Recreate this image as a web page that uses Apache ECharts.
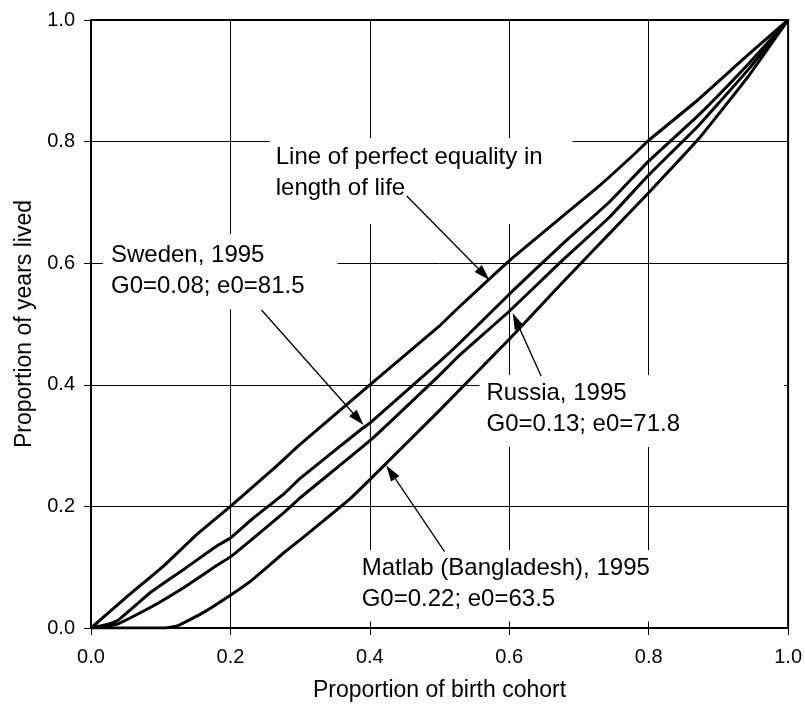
<!DOCTYPE html>
<html>
<head>
<meta charset="utf-8">
<script src="https://cdn.jsdelivr.net/npm/echarts@6/dist/echarts.min.js"></script>
<style>
  html, body { margin: 0; padding: 0; background: #fff; }
  #chart { width: 805px; height: 707px; }
</style>
</head>
<body>
<div id="chart"></div>
<script>
//*************************************************************************************************data
// [proportion of birth cohort, proportion of years lived]
var equality_line = [[0, 0], [0.05, 0.05], [0.106, 0.104], [0.15, 0.152], [0.2, 0.2], [0.26, 0.26],
    [0.3, 0.302], [0.4, 0.4], [0.5, 0.497], [0.53, 0.53], [0.6, 0.604], [0.67, 0.671], [0.73, 0.728],
    [0.78, 0.78], [0.8, 0.802], [0.87, 0.868], [0.94, 0.94], [1, 1]];
var sweden_1995 = [[0, 0], [0.02, 0.005], [0.039, 0.013], [0.087, 0.06], [0.135, 0.098], [0.182, 0.136],
    [0.2, 0.148], [0.23, 0.178], [0.278, 0.222], [0.3, 0.246], [0.39, 0.329], [0.4, 0.337], [0.5, 0.438],
    [0.53, 0.47], [0.6, 0.549], [0.672, 0.627], [0.744, 0.701], [0.8, 0.768], [0.872, 0.844],
    [0.944, 0.929], [1, 1]];
var russia_1995 = [[0, 0], [0.039, 0.007], [0.087, 0.035], [0.135, 0.068], [0.182, 0.104], [0.2, 0.117],
    [0.23, 0.145], [0.278, 0.191], [0.3, 0.214], [0.4, 0.308], [0.5, 0.416], [0.53, 0.45], [0.6, 0.521],
    [0.672, 0.6], [0.744, 0.676], [0.8, 0.745], [0.872, 0.827], [0.944, 0.92], [1, 1]];
var matlab_1995 = [[0, 0], [0.106, 0], [0.125, 0.004], [0.159, 0.024], [0.2, 0.054], [0.23, 0.078],
    [0.278, 0.125], [0.3, 0.145], [0.371, 0.212], [0.4, 0.244], [0.5, 0.358], [0.6, 0.475], [0.672, 0.563],
    [0.744, 0.649], [0.8, 0.716], [0.872, 0.805], [0.944, 0.909], [1, 1]];

var x_title = 'Proportion of birth cohort';
var y_title = 'Proportion of years lived';

// annotation texts
var note_texts = [
    'Line of perfect equality in\nlength of life',
    'Sweden, 1995\nG0=0.08; e0=81.5',
    'Russia, 1995\nG0=0.13; e0=71.8',
    'Matlab (Bangladesh), 1995\nG0=0.22; e0=63.5',
];

//*************************************************************************************************layout
var font = '"Liberation Sans", Arial, sans-serif';

// top-left of each white text box (data coords) and its padding
var note_boxes = [
    { at: [0.2564, 0.8059], pad: [4, 30, 20, 6] },
    { at: [0.0172, 0.648], pad: [5.5, 33, 8, 8] },
    { at: [0.5573, 0.4161], pad: [3, 104, 7, 7] },
    { at: [0.3782, 0.1283], pad: [2.5, 20, 7, 7] },
];
// arrows: from -> tip (data coords)
var note_arrows = [
    [[0.453, 0.7105], [0.5716, 0.5724]],
    [[0.2446, 0.523], [0.391, 0.3339]],
    [[0.6457, 0.4145], [0.605, 0.5176]],
    [[0.5072, 0.1255], [0.4236, 0.2673]],
];

//*************************************************************************************************draw
var chart = echarts.init(document.getElementById('chart'));

function curve(name, data) {
    return {
        name: name,
        type: 'line',
        data: data,
        showSymbol: false,
        symbol: 'none',
        smooth: 0.12,
        lineStyle: { color: '#000', width: 3 },
        z: 20,
    };
}

var option = {
    animation: false,
    backgroundColor: '#fff',
    textStyle: { fontFamily: font },
    grid: {
        left: 91, right: 16, top: 20, bottom: 79,
        show: true, borderColor: '#000', borderWidth: 2,
    },
    xAxis: {
        type: 'value',
        min: 0, max: 1, interval: 0.2,
        name: x_title,
        nameLocation: 'middle',
        nameGap: 51,
        nameTextStyle: { color: '#000', fontSize: 23, fontFamily: font },
        axisLine: { show: true, lineStyle: { color: '#000', width: 2 } },
        axisTick: { show: true, length: 7, lineStyle: { color: '#000', width: 1 } },
        axisLabel: {
            color: '#000', fontSize: 20, fontFamily: font, margin: 19,
            formatter: function (v) { return v.toFixed(1); },
        },
        splitLine: { show: true, lineStyle: { color: '#000', width: 1 } },
    },
    yAxis: {
        type: 'value',
        min: 0, max: 1, interval: 0.2,
        name: y_title,
        nameLocation: 'middle',
        nameGap: 45,
        nameTextStyle: { color: '#000', fontSize: 23, fontFamily: font },
        axisLine: { show: true, lineStyle: { color: '#000', width: 2 } },
        axisTick: { show: true, length: 7, lineStyle: { color: '#000', width: 1 } },
        axisLabel: {
            color: '#000', fontSize: 20, fontFamily: font, margin: 16,
            formatter: function (v) { return v.toFixed(1); },
        },
        splitLine: { show: true, lineStyle: { color: '#000', width: 1 } },
    },
    series: [
        curve('Line of perfect equality', equality_line),
        curve('Sweden, 1995', sweden_1995),
        curve('Russia, 1995', russia_1995),
        curve('Matlab (Bangladesh), 1995', matlab_1995),
    ],
};
chart.setOption(option);

// annotations placed through the grid's scales
function px(p) {
    return chart.convertToPixel({ gridIndex: 0 }, p);
}

var elements = [];
note_texts.forEach(function (txt, i) {
    var p = px(note_boxes[i].at);
    elements.push({
        type: 'text',
        x: p[0], y: p[1],
        z: 10,
        style: {
            text: txt,
            fill: '#000',
            fontSize: 24,
            fontFamily: font,
            lineHeight: 31,
            align: 'left',
            verticalAlign: 'top',
            backgroundColor: '#fff',
            padding: note_boxes[i].pad,
        },
    });
});

note_arrows.forEach(function (a) {
    var s = px(a[0]);
    var t = px(a[1]);
    var dx = t[0] - s[0], dy = t[1] - s[1];
    var len = Math.sqrt(dx * dx + dy * dy);
    dx /= len; dy /= len;
    var head = 16, half = 5;
    var bx = t[0] - dx * head, by = t[1] - dy * head;
    elements.push({
        type: 'line', z: 30,
        shape: { x1: s[0], y1: s[1], x2: bx, y2: by },
        style: { stroke: '#000', lineWidth: 1.3 },
    });
    elements.push({
        type: 'polygon', z: 30,
        shape: { points: [[t[0], t[1]], [bx - dy * half, by + dx * half], [bx + dy * half, by - dx * half]] },
        style: { fill: '#000' },
    });
});

chart.setOption({ graphic: { elements: elements } });
</script>
</body>
</html>
